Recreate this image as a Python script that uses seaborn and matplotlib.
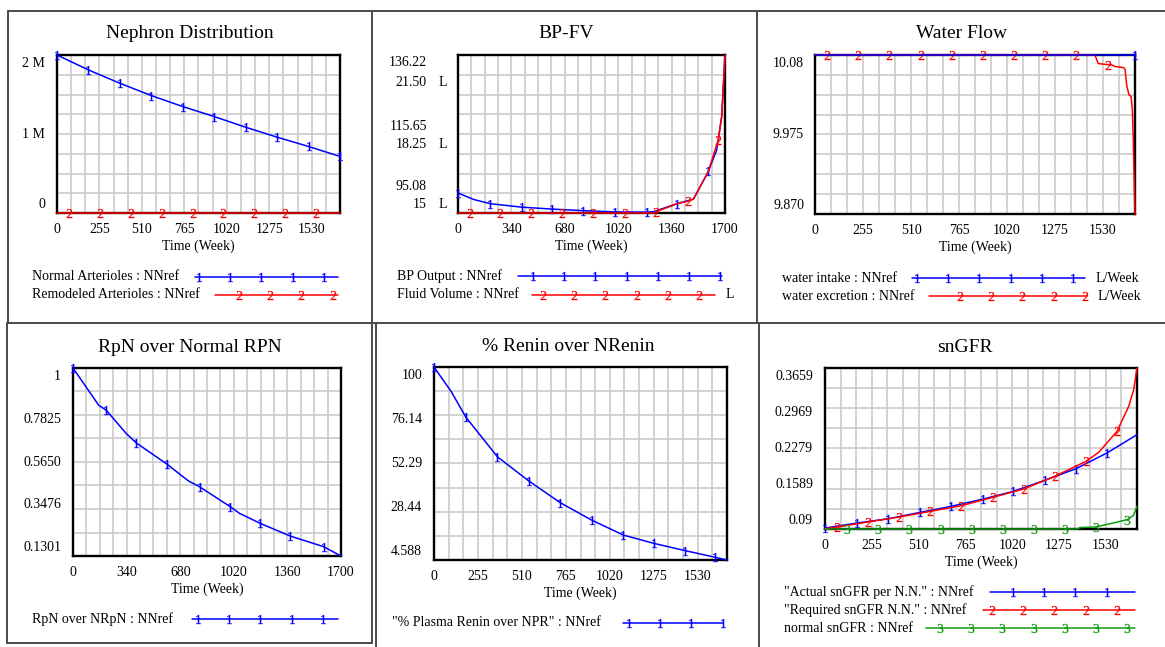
import numpy as np
import matplotlib
matplotlib.use("Agg")
import matplotlib.pyplot as plt
import seaborn as sns
from matplotlib.lines import Line2D
from matplotlib.transforms import blended_transform_factory, ScaledTranslation
from matplotlib.ticker import MultipleLocator

sns.set_theme(style="white")
plt.rcParams['font.family'] = ['Liberation Serif', 'DejaVu Serif']
plt.rcParams['mathtext.fontset'] = 'custom'
plt.rcParams['mathtext.rm'] = 'Liberation Serif'
plt.rcParams['mathtext.it'] = 'Liberation Serif'
plt.rcParams['mathtext.bf'] = 'Liberation Serif'

# ---------------- data ----------------
x_ticks_255 = [0, 255, 510, 765, 1020, 1275, 1530]
x_ticks_340 = [0, 340, 680, 1020, 1360, 1700]

# Nephron Distribution
nd_y_vals = [0, 1e6, 2e6]
nd_y_labels = ["0", "1 M", "2 M"]
nd_norm_t = [0, 189, 378, 567, 756, 944, 1133, 1322, 1511, 1700]
nd_norm_v = [2.0e6, 1.811e6, 1.642e6, 1.486e6, 1.347e6, 1.221e6, 1.086e6, 0.960e6, 0.842e6, 0.716e6]
nd_norm_mk = [0, 189, 378, 567, 756, 944, 1133, 1322, 1511, 1700]
nd_rem_t = [0, 70, 256, 442, 628, 814, 1000, 1186, 1372, 1558, 1700]
nd_rem_v = [0, 0, 0, 0, 0, 0, 0, 0, 0, 0, 0]
nd_rem_mk = [70, 256, 442, 628, 814, 1000, 1186, 1372, 1558]

# BP-FV
bp_y_vals = [95.08, 115.65, 136.22]
bp_y_labels = ["95.08", "115.65", "136.22"]
fv_y_vals = [15, 18.25, 21.50]
fv_y_labels = ["15", "18.25", "21.50"]
bp_t = [0, 100, 206, 407, 598, 799, 1000, 1202, 1244, 1393, 1499, 1594, 1647, 1679, 1700]
bp_v = [100.3, 98.6, 97.5, 96.6, 96.1, 95.7, 95.35, 95.3, 95.4, 97.5, 98.7, 105.9, 111.5, 120.2, 136.22]
bp_mk = [0, 206, 407, 598, 799, 1000, 1202, 1393, 1594]
fv_t = [0, 74, 269, 466, 665, 862, 1064, 1244, 1261, 1393, 1462, 1499, 1594, 1657, 1679, 1700]
fv_v = [15.0, 15.0, 15.0, 15.0, 15.0, 15.0, 15.0, 15.0, 15.05, 15.38, 15.48, 15.57, 16.71, 18.01, 18.97, 21.50]
fv_mk = [74, 269, 466, 665, 862, 1064, 1261, 1462, 1657]

# Water Flow
wf_y_vals = [9.870, 9.975, 10.08]
wf_y_labels = ["9.870", "9.975", "10.08"]
wi_t = [0, 1700]
wi_v = [10.08, 10.08]
wi_mk = [1700]
we_t = [0, 62, 230, 395, 562, 727, 892, 1058, 1223, 1388, 1487, 1505, 1558, 1576, 1594, 1638, 1647,
        1656, 1668, 1679, 1686, 1691, 1695, 1700]
we_v = [10.08, 10.08, 10.08, 10.08, 10.08, 10.08, 10.08, 10.08, 10.08, 10.08, 10.08, 10.0687, 10.0672,
        10.0670, 10.0648, 10.0635, 10.0613, 10.0396, 10.0274, 10.0253, 10.007, 9.968, 9.92, 9.870]
we_mk = [62, 230, 395, 562, 727, 892, 1058, 1223, 1388, 1558]

# RpN over Normal RPN
rp_y_vals = [0.1301, 0.3476, 0.5650, 0.7825, 1.0]
rp_y_labels = ["0.1301", "0.3476", "0.5650", "0.7825", "1"]
rp_t = [0, 163, 211, 338, 401, 596, 734, 803, 998, 1057, 1188, 1378, 1590, 1700]
rp_v = [1.0, 0.8276, 0.8045, 0.6967, 0.6536, 0.555, 0.4765, 0.4503, 0.358, 0.3272, 0.281, 0.2225, 0.1732, 0.1301]
rp_mk = [0, 211, 401, 596, 803, 998, 1188, 1378, 1590]

# % Renin over NRenin
rn_y_vals = [4.588, 28.44, 52.29, 76.14, 100]
rn_y_labels = ["4.588", "28.44", "52.29", "76.14", "100"]
rn_t = [0, 101, 184, 368, 551, 733, 915, 1099, 1276, 1458, 1633, 1700]
rn_v = [100.0, 87.7, 75.3, 55.6, 43.6, 32.9, 24.3, 16.9, 12.8, 9.2, 5.9, 4.588]
rn_mk = [0, 184, 368, 551, 733, 915, 1099, 1276, 1458, 1633]

# snGFR
sg_y_vals = [0.09, 0.1589, 0.2279, 0.2969, 0.3659]
sg_y_labels = ["0.09", "0.1589", "0.2279", "0.2969", "0.3659"]
act_t = [0, 173, 345, 518, 687, 861, 1027, 1196, 1367, 1536, 1700]
act_v = [0.0916, 0.1002, 0.1076, 0.1185, 0.1288, 0.1413, 0.1545, 0.1733, 0.1933, 0.2202, 0.2516]
act_mk = [0, 173, 345, 518, 687, 861, 1027, 1196, 1367, 1536]
req_t = [0, 64, 233, 404, 573, 742, 913, 1082, 1251, 1422, 1491, 1591, 1655, 1682, 1700]
req_v = [0.0905, 0.0933, 0.1019, 0.1105, 0.1202, 0.1299, 0.1442, 0.1585, 0.1802, 0.2059, 0.2213,
         0.2573, 0.3002, 0.3288, 0.3659]
req_mk = [64, 233, 404, 573, 742, 913, 1082, 1251, 1422, 1591]
nor_t = [0, 118, 291, 460, 630, 799, 968, 1139, 1308, 1375, 1390, 1475, 1560, 1645, 1680, 1700]
nor_v = [0.09, 0.09, 0.09, 0.09, 0.09, 0.09, 0.09, 0.09, 0.09, 0.09, 0.0925, 0.0935, 0.0995, 0.106, 0.113, 0.1288]
nor_mk = [118, 291, 460, 630, 799, 968, 1139, 1308, 1475, 1645]

# ---------------- styling ----------------
W, H, DPI = 1165, 647, 100
FS = 10
TFS = 14
MS = 6.5
BLUE, RED, GREEN = "#0000ff", "#ff0000", "#119a11"
GRID = "#cbcbcb"
BORDER = "#4a4a4a"

fig = plt.figure(figsize=(W / DPI, H / DPI), dpi=DPI)
fig.patch.set_facecolor("white")


def fx(x):
    return x / W


def fy(y):
    return 1 - y / H


def make_axes(x0, y0, x1, y1):
    return fig.add_axes([fx(x0), fy(y1), (x1 - x0) / W, (y1 - y0) / H])


def style_axes(ax, xticks, ylim):
    ax.set_xlim(0, 1700)
    ax.set_ylim(*ylim)
    ax.set_xticks(xticks)
    ax.set_xticklabels([str(v) for v in xticks])
    ax.xaxis.set_minor_locator(MultipleLocator(85))
    ax.set_yticks(np.linspace(ylim[0], ylim[1], 9))
    ax.set_yticklabels([])
    ax.tick_params(which="both", length=0, labelsize=FS, pad=7, colors="black")
    ax.grid(True, which="both", color=GRID, lw=1.2)
    ax.set_axisbelow(True)
    ax.set_facecolor("white")
    for s in ax.spines.values():
        s.set_visible(True)
        s.set_color("black")
        s.set_linewidth(1.7)
        s.set_zorder(2.5)
    ax.set_xlabel("Time (Week)", fontsize=FS, labelpad=3, color="black")
    ax.set_ylabel("")


def ylabels(ax, vals, labels, dx=-12, offsets=None):
    n = len(vals)
    if offsets is None:
        offsets = [8.5 - i * 17.0 / (n - 1) for i in range(n)]
    base = blended_transform_factory(ax.transAxes, ax.transData)
    for v, lab, dy in zip(vals, labels, offsets):
        ax.text(0, v, lab, ha="right", va="center", fontsize=FS, color="black",
                transform=base + ScaledTranslation(dx / DPI, dy / DPI, fig.dpi_scale_trans))


def series(ax, t, v, mk, color, digit, z=3):
    idx = [t.index(m) for m in mk]
    sns.lineplot(x=t, y=v, ax=ax, color=color, lw=1.1, sort=False, estimator=None,
                 marker=f"$\\mathrm{{{digit}}}$", markevery=idx, markersize=MS,
                 markeredgecolor=color, markerfacecolor=color, markeredgewidth=0.2,
                 clip_on=False, zorder=z)


def title(text, xc, yc):
    fig.text(fx(xc), fy(yc), text, ha="center", va="center", fontsize=TFS, color="black")


def legend_row(text, x, y, lx0, lx1, color, digit, first, suffix=None):
    fig.text(fx(x), fy(y), text, ha="left", va="center", fontsize=FS, color="black")
    fig.add_artist(Line2D([fx(lx0), fx(lx1)], [fy(y), fy(y)], color=color, lw=1.1,
                          transform=fig.transFigure))
    xs = np.arange(first, lx1 + 2, 31.2)
    fig.add_artist(Line2D([fx(v) for v in xs], [fy(y)] * len(xs), color=color, ls="none",
                          marker=f"$\\mathrm{{{digit}}}$", markersize=MS, markeredgewidth=0.2,
                          markeredgecolor=color, markerfacecolor=color, transform=fig.transFigure))
    if suffix:
        fig.text(fx(lx1 + 11), fy(y), suffix, ha="left", va="center", fontsize=FS, color="black")


def hline(x0, x1, y, lw=1.4):
    fig.add_artist(Line2D([fx(x0), fx(x1)], [fy(y), fy(y)], color=BORDER, lw=lw, transform=fig.transFigure))


def vline(x, y0, y1, lw=1.4):
    fig.add_artist(Line2D([fx(x), fx(x)], [fy(y0), fy(y1)], color=BORDER, lw=lw, transform=fig.transFigure))


# panel borders
hline(8, 1165, 10.5)
hline(7, 1165, 323)
vline(8, 10.5, 323)
vline(372, 10.5, 643)
vline(757, 10.5, 323)
vline(7, 323, 643)
hline(7, 372, 643)
vline(376, 323, 647)
vline(758.5, 323, 647)

# ---- Panel 1: Nephron Distribution ----
ax1 = make_axes(57, 55, 340, 213)
style_axes(ax1, x_ticks_255, (nd_y_vals[0], nd_y_vals[-1]))
series(ax1, nd_norm_t, nd_norm_v, nd_norm_mk, BLUE, 1)
series(ax1, nd_rem_t, nd_rem_v, nd_rem_mk, RED, 2)
ylabels(ax1, nd_y_vals, nd_y_labels)
title("Nephron Distribution", 190, 34)
legend_row("Normal Arterioles : NNref", 32, 277, 195, 338, BLUE, 1, 199)
legend_row("Remodeled Arterioles : NNref", 32, 295, 215, 338, RED, 2, 239)

# ---- Panel 2: BP-FV ----
ax2 = make_axes(458, 55, 725, 213)
style_axes(ax2, x_ticks_340, (bp_y_vals[0], bp_y_vals[-1]))
series(ax2, bp_t, bp_v, bp_mk, BLUE, 1)
ax2b = ax2.twinx()
ax2b.set_ylim(fv_y_vals[0], fv_y_vals[-1])
ax2b.set_xlim(0, 1700)
ax2b.set_yticks([])
ax2b.grid(False)
for s in ax2b.spines.values():
    s.set_visible(False)
series(ax2b, fv_t, fv_v, fv_mk, RED, 2)
ax2b.set_ylabel("")
ylabels(ax2, bp_y_vals, bp_y_labels, dx=-31, offsets=[26, 8, -8])
ylabels(ax2b, fv_y_vals, fv_y_labels, dx=-31, offsets=[9, -10, -27])
ylabels(ax2b, fv_y_vals, ["L", "L", "L"], dx=-11, offsets=[9, -10, -27])
title("BP-FV", 566, 33)
legend_row("BP Output : NNref", 397, 276, 518, 722, BLUE, 1, 533)
legend_row("Fluid Volume : NNref", 397, 295, 532, 715, RED, 2, 543, suffix="L")

# ---- Panel 3: Water Flow ----
ax3 = make_axes(815, 55, 1135, 214)
style_axes(ax3, x_ticks_255, (wf_y_vals[0], wf_y_vals[-1]))
series(ax3, we_t, we_v, we_mk, RED, 2, z=3)
series(ax3, wi_t, wi_v, wi_mk, BLUE, 1, z=3.2)
ylabels(ax3, wf_y_vals, wf_y_labels, dx=-11)
title("Water Flow", 962, 33)
legend_row("water intake : NNref", 782, 278, 912, 1085, BLUE, 1, 917, suffix="L/Week")
legend_row("water excretion : NNref", 782, 296, 929, 1087, RED, 2, 960, suffix="L/Week")

# ---- Panel 4: RpN over Normal RPN ----
ax4 = make_axes(73, 368, 341, 556)
style_axes(ax4, x_ticks_340, (rp_y_vals[0], rp_y_vals[-1]))
series(ax4, rp_t, rp_v, rp_mk, BLUE, 1)
ylabels(ax4, rp_y_vals, rp_y_labels)
title("RpN over Normal RPN", 190, 348)
legend_row("RpN over NRpN : NNref", 32, 619, 192, 338, BLUE, 1, 198)

# ---- Panel 5: % Renin over NRenin ----
ax5 = make_axes(434, 367, 727, 560)
style_axes(ax5, x_ticks_255, (rn_y_vals[0], rn_y_vals[-1]))
series(ax5, rn_t, rn_v, rn_mk, BLUE, 1)
ylabels(ax5, rn_y_vals, rn_y_labels)
title("% Renin over NRenin", 568, 347)
legend_row("\"% Plasma Renin over NPR\" : NNref", 392, 623, 623, 723, BLUE, 1, 629)

# ---- Panel 6: snGFR ----
ax6 = make_axes(825, 368, 1137, 529)
style_axes(ax6, x_ticks_255, (sg_y_vals[0], sg_y_vals[-1]))
series(ax6, act_t, act_v, act_mk, BLUE, 1)
series(ax6, req_t, req_v, req_mk, RED, 2)
series(ax6, nor_t, nor_v, nor_mk, GREEN, 3)
ylabels(ax6, sg_y_vals, sg_y_labels)
title("snGFR", 965, 348)
legend_row("\"Actual snGFR per N.N.\" : NNref", 784, 592, 990, 1135, BLUE, 1, 1013)
legend_row("\"Required snGFR N.N.\" : NNref", 784, 610, 983, 1135, RED, 2, 992)
legend_row("normal snGFR : NNref", 784, 628, 926, 1135, GREEN, 3, 940)

fig.savefig("out.png", dpi=DPI, facecolor="white")
